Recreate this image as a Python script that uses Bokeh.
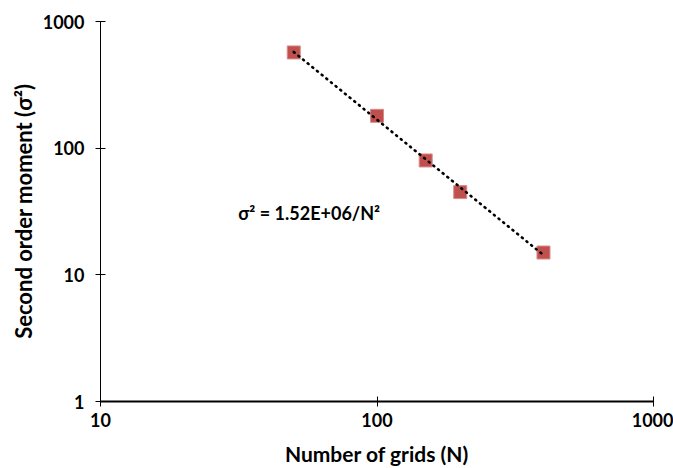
import numpy as np
from bokeh.plotting import figure
from bokeh.models import FixedTicker, Label
from bokeh.embed import file_html
from bokeh.resources import INLINE

# Data
grids_n = [50, 100, 150, 200, 400]
sigma2 = [570, 180, 80, 45, 15]
x_ticks = [10, 100, 1000]
y_ticks = [1, 10, 100, 1000]
equation_text = "σ² = 1.52E+06/N²"
x_label = "Number of grids (N)"
y_label = "Second order moment (σ²)"

FONT = "Lato"

# power trend line fitted from the data
coef = np.polyfit(np.log10(grids_n), np.log10(sigma2), 1)
trend_x = np.array([min(grids_n), max(grids_n)], dtype=float)
trend_y = 10 ** (coef[1] + coef[0] * np.log10(trend_x))

p = figure(width=673, height=468, x_axis_type="log", y_axis_type="log",
           x_range=(10, 1000), y_range=(1, 1000),
           output_backend="svg", toolbar_location=None,
           min_border_left=100, min_border_right=20,
           min_border_top=21, min_border_bottom=66)
p.outline_line_color = None
p.xgrid.visible = False
p.ygrid.visible = False
p.background_fill_color = "white"
p.border_fill_color = "white"

p.scatter(grids_n, sigma2, marker="square", size=13,
          fill_color="#C0504D", line_color="#D98A88", line_width=1)
p.line(trend_x, trend_y, line_color="black", line_width=2.6,
       line_dash="1 5", line_cap="round")

p.add_layout(Label(x=31.5, y=30.5, text=equation_text, text_font=FONT,
                   text_font_style="bold", text_font_size="18px",
                   text_baseline="middle", text_align="left", text_color="black"))

for ax, ticks in ((p.xaxis, x_ticks), (p.yaxis, y_ticks)):
    ax.ticker = FixedTicker(ticks=ticks, minor_ticks=[])
    ax.major_label_overrides = {t: str(t) for t in ticks}
    ax.major_label_text_font = FONT
    ax.major_label_text_font_style = "bold"
    ax.major_label_text_font_size = "18px"
    ax.major_label_text_color = "black"
    ax.axis_label_text_font = FONT
    ax.axis_label_text_font_style = "bold"
    ax.axis_label_text_color = "black"
    ax.major_tick_in = 5
    ax.major_tick_out = 5
    ax.minor_tick_line_color = None
    ax.major_tick_line_color = "black"
    ax.axis_line_color = "black"

p.xaxis.axis_label = x_label
p.yaxis.axis_label = y_label
p.xaxis.axis_label_text_font_size = "21px"
p.yaxis.axis_label_text_font_size = "22px"
p.xaxis.axis_line_width = 2
p.yaxis.axis_line_width = 1
p.xaxis.major_label_standoff = 6
p.yaxis.major_label_standoff = 11
p.xaxis.axis_label_standoff = 11
p.yaxis.axis_label_standoff = 3

open("out.html", "w").write(file_html(p, INLINE))
